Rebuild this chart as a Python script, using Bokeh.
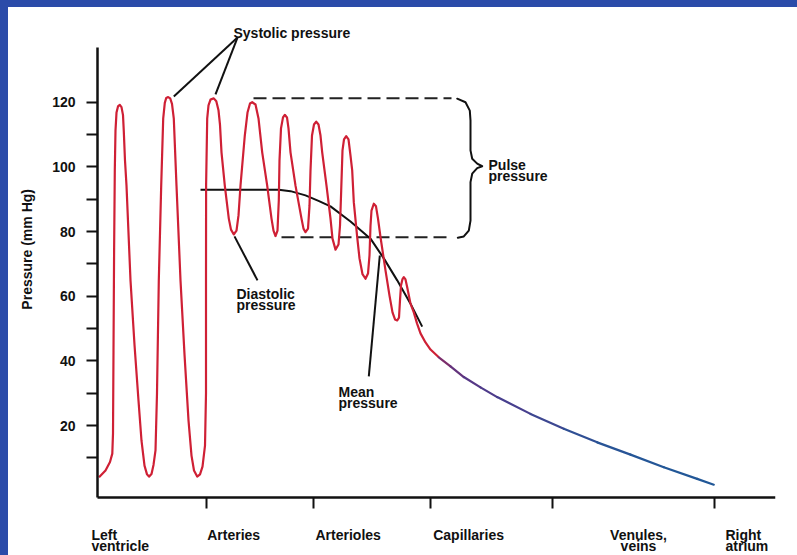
import math
from bokeh.plotting import figure
from bokeh.models import Range1d, FixedTicker, LinearAxis, GlobalInlineStyleSheet
from bokeh.core.properties import value
from bokeh.embed import file_html
from bokeh.resources import INLINE

# ---------------- data ----------------
# x: relative distance along the circulation (arbitrary units), y: pressure (mm Hg)
segment_ticks = [109, 216, 333, 455, 617]
segment_line1 = ["Left", "Arteries", "Arterioles", "Capillaries", "Venules,", "Right"]
segment_line2 = ["ventricle", "", "", "", "veins", "atrium"]
segment_label_x = [-6, 109.7, 218, 335.7, 541, 628]
segment_label_align = ["left", "left", "left", "left", "center", "left"]

y_major_ticks = [20, 40, 60, 80, 100, 120]
y_minor_ticks = [10, 30, 50, 70, 90, 110]
y_title = "Pressure (mm Hg)"

arterial_x = [1.5, 8, 12.5, 14.8, 15.5, 16, 16.6, 17.3, 18, 19, 20.5, 22.3,
              24, 25.5, 26.3, 27.5, 29, 33, 37, 41, 44, 47, 49.5, 51.5,
              54, 56, 58, 59.5, 61.3, 63.7, 65.7, 67.3, 68.7, 70.7,
              72.7, 74.5, 76.3, 79, 83, 87, 91, 94, 96.5, 99.7,
              102.5, 105, 107.5, 108.5, 108.5, 108.6, 109.7, 111, 113, 116.3,
              118.8, 121, 122.5, 124, 127.3, 131.3, 133.5, 136.3,
              139, 141, 143, 147.3, 150, 152.5, 154.7,
              158, 161, 164.7, 169.7, 174, 176, 178,
              180, 181.3, 182, 183.5, 185.5, 187.3,
              189.5, 191, 193, 198, 204, 206, 208,
              210.5, 212, 213, 214.5, 216.5, 218.7,
              221, 223, 224.7, 229, 233, 235, 238,
              241, 242.5, 243.7, 245, 246.5, 248.7,
              251, 253, 254.7, 256.3, 259.7, 262, 265, 268,
              270.5, 272, 273, 274, 276.3,
              278.5, 280.5, 283, 288, 292, 295, 297.5, 299.7,
              301.5, 302.5, 303.5, 305, 306.3,
              308, 309.7, 313, 316.3, 319.5, 323, 328, 333, 341.3]
arterial_y = [4.0, 6.1, 8.7, 11.3, 17.5, 43.0, 74.0, 99.0, 111.3, 116.8, 118.7, 119.2,
              118.5, 116.0, 111.0, 102.0, 94.2, 64.9, 45.0, 27.7, 15.3, 7.6, 4.9, 4.2,
              5.0, 7.8, 12.3, 30.0, 64.9, 94.2, 114.9, 119.8, 121.3, 121.6,
              121.2, 119.5, 114.9, 94.2, 64.9, 42.0, 21.6, 10.7, 6.1, 4.2,
              4.9, 7.3, 13.8, 30.0, 64.9, 94.2, 114.9, 119.0, 120.8, 121.2,
              120.3, 117.5, 113.0, 104.5, 94.2, 84.0, 80.6, 79.1,
              80.3, 85.0, 94.2, 109.7, 116.8, 119.6, 120.0,
              119.3, 115.0, 104.5, 94.2, 84.0, 80.3, 78.6,
              80.3, 89.6, 102.0, 111.9, 115.3, 116.1,
              115.3, 111.9, 104.5, 94.2, 84.0, 80.9, 79.8,
              80.9, 88.0, 98.9, 109.7, 113.1, 114.0,
              113.1, 109.7, 104.5, 94.2, 84.0, 77.8, 74.4,
              76.0, 81.8, 92.7, 105.1, 108.5, 109.5,
              108.5, 103.5, 98.9, 89.1, 78.3, 71.7, 66.8, 65.4,
              67.0, 72.6, 81.8, 86.5, 88.6,
              87.8, 84.0, 78.3, 68.0, 60.2, 55.0, 52.8, 52.5,
              53.4, 58.7, 63.3, 65.3, 65.9,
              65.2, 62.8, 57.7, 55.0, 51.6, 48.5, 45.7, 43.5, 41.1]

venous_x = [341.3, 353, 366.3, 383, 399.7, 433, 466.3, 499.7, 533, 566.3, 599.7, 616.3]
venous_y = [41.1, 38.3, 35.0, 31.8, 28.8, 23.6, 19.0, 14.8, 11.0, 7.1, 3.5, 1.7]
venous_colors = ["#7b2d6b", "#63337c", "#563886", "#4e3b8a", "#473f8e", "#3d4791",
                 "#2f4f94", "#285496", "#245697", "#225797", "#215797"]

mean_x = [103, 181.3, 193, 208, 221, 233, 253, 273, 286.3, 299.7, 313, 324.7]
mean_y = [92.9, 92.9, 92.5, 91.2, 89.5, 87.8, 83.1, 77.8, 71.7, 64.9, 57.7, 50.6]

systolic_level = 121.2
diastolic_level = 78.2
systolic_dash_x = [156, 354]
diastolic_dash_x = [184, 354]

brace_x = [359.7, 368, 372.3, 373, 373, 374.7, 379.7, 384.7, 379.7, 374.7, 373, 373, 371.3, 366.3, 360.3]
brace_y = [121.1, 120.0, 117.4, 114.4, 105.1, 102.5, 101.0, 100.2, 99.6, 97.9, 95.3, 83.4, 80.3, 78.5, 78.1]

# annotation leader lines: (x0, y0, x1, y1)
leader_lines = [
    (140, 140.0, 76.3, 121.8),   # systolic -> 2nd peak
    (140, 140.0, 118, 122.4),    # systolic -> 3rd peak
    (137, 78.5, 160, 64.9),      # diastolic
    (282.3, 72.6, 271.3, 35.2),  # mean
]

# texts: (text, x, y_baseline)
notes = [
    ("Systolic pressure", 136, 141.5),
    ("Pulse", 391, 100.7),
    ("pressure", 391, 97.3),
    ("Diastolic", 139, 60.7),
    ("pressure", 139, 57.4),
    ("Mean", 241, 30.3),
    ("pressure", 241, 27.0),
]
label_row1_y = -14.0
label_row2_y = -17.4
y_title_pos = (-71, 74.5)

# ---------------- styling ----------------
FONT = "Liberation Sans"
FSIZE = "14px"
RED = "#cf2035"
INK = "#111111"

X_START, X_END = -89, 678
Y_START, Y_END = -20.2, 149.3
X_AXIS_AT = -2.26
Y_AXIS_AT = 0
Y_AXIS_TOP = 137

p = figure(width=789, height=548, x_range=Range1d(X_START, X_END), y_range=Range1d(Y_START, Y_END),
           output_backend="svg", toolbar_location=None, title=None,
           x_axis_type=None, y_axis_type=None,
           min_border_left=0, min_border_right=22, min_border_top=0, min_border_bottom=0)
p.outline_line_color = None
p.background_fill_color = "white"
p.border_fill_color = "white"
p.xgrid.visible = False
p.ygrid.visible = False
p.stylesheets = [GlobalInlineStyleSheet(css=(
    "html, body { margin: 0 !important; }"
    " body { padding: 7px 0 0 8px !important; box-sizing: border-box !important;"
    " background: transparent !important; overflow: hidden !important; }"
    " html { background: linear-gradient(to right, #2b4ba9 8px, rgba(0,0,0,0) 8px),"
    " linear-gradient(to bottom, #2b4ba9 7px, #ffffff 7px) !important; }"))]

yaxis = LinearAxis(ticker=FixedTicker(ticks=y_major_ticks, minor_ticks=y_minor_ticks),
                   bounds=(X_AXIS_AT, Y_AXIS_TOP), fixed_location=Y_AXIS_AT)
yaxis.axis_line_width = 2.5
yaxis.axis_line_color = INK
yaxis.major_tick_in = 0
yaxis.major_tick_out = 11
yaxis.minor_tick_in = 0
yaxis.minor_tick_out = 11
yaxis.major_tick_line_width = 2
yaxis.minor_tick_line_width = 2
yaxis.major_tick_line_color = INK
yaxis.minor_tick_line_color = INK
yaxis.major_label_standoff = 11
yaxis.major_label_text_font = FONT
yaxis.major_label_text_font_style = "bold"
yaxis.major_label_text_font_size = FSIZE
yaxis.major_label_text_color = INK
p.add_layout(yaxis, "left")

xaxis = LinearAxis(ticker=FixedTicker(ticks=segment_ticks, minor_ticks=[]),
                   bounds=(Y_AXIS_AT, X_END), fixed_location=X_AXIS_AT)
xaxis.axis_line_width = 2.5
xaxis.axis_line_color = INK
xaxis.major_tick_in = 0
xaxis.major_tick_out = 11
xaxis.major_tick_line_width = 2
xaxis.major_tick_line_color = INK
xaxis.major_label_overrides = {t: "" for t in segment_ticks}
p.add_layout(xaxis, "below")

# y axis title (rotated text)
p.text(x=[y_title_pos[0]], y=[y_title_pos[1]], text=[y_title], angle=math.pi / 2,
       text_font=value(FONT), text_font_style="bold", text_font_size=value(FSIZE),
       text_color=INK, text_align="center", text_baseline="middle")

# category labels under the x axis
for align in ("left", "center"):
    tx, ty, tt = [], [], []
    for x, t1, t2, al in zip(segment_label_x, segment_line1, segment_line2, segment_label_align):
        if al != align:
            continue
        for t, yy in ((t1, label_row1_y), (t2, label_row2_y)):
            if t:
                tx.append(x)
                ty.append(yy)
                tt.append(t)
    p.text(x=tx, y=ty, text=tt, text_font=value(FONT), text_font_style="bold",
           text_font_size=value(FSIZE), text_color=INK, text_align=align,
           text_baseline="alphabetic")

# pulse pressure dashed levels and brace
p.line(systolic_dash_x, [systolic_level] * 2, line_color="#222222", line_width=2, line_dash="13 6")
p.line(diastolic_dash_x, [diastolic_level] * 2, line_color="#222222", line_width=2, line_dash="13 6")
p.line(brace_x, brace_y, line_color=INK, line_width=2, line_join="round", line_cap="round")

# mean pressure
p.line(mean_x, mean_y, line_color=INK, line_width=2)

# arterial pressure
p.line(arterial_x, arterial_y, line_color=RED, line_width=2.2, line_join="round")

# venous side (colour shifting from red to blue)
xs = [[venous_x[i], venous_x[i + 1]] for i in range(len(venous_x) - 1)]
ys = [[venous_y[i], venous_y[i + 1]] for i in range(len(venous_y) - 1)]
p.multi_line(xs, ys, line_color=venous_colors, line_width=2.2, line_cap="round")

# leader lines
p.segment(x0=[l[0] for l in leader_lines], y0=[l[1] for l in leader_lines],
          x1=[l[2] for l in leader_lines], y1=[l[3] for l in leader_lines],
          line_color=INK, line_width=2)

# notes
p.text(x=[n[1] for n in notes], y=[n[2] for n in notes], text=[n[0] for n in notes],
       text_font=value(FONT), text_font_style="bold", text_font_size=value(FSIZE),
       text_color=INK, text_align="left", text_baseline="alphabetic")

open("out.html", "w").write(file_html(p, INLINE))
